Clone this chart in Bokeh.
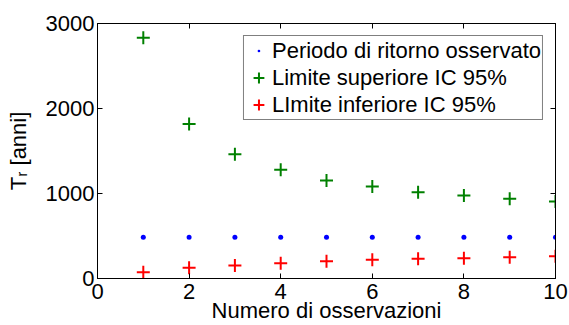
from bokeh.plotting import figure
from bokeh.models import Range1d, LinearAxis, FixedTicker, Legend, LegendItem
from bokeh.embed import file_html
from bokeh.resources import INLINE

# ---- data ----
n_obs = [1, 2, 3, 4, 5, 6, 7, 8, 9, 10]
observed_period = [486, 486, 486, 486, 486, 486, 486, 486, 486, 486]
upper_ci = [2831, 1819, 1462, 1278, 1153, 1082, 1015, 976, 937, 906]
lower_ci = [74, 126, 153, 180, 204, 220, 231, 239, 251, 263]
x_ticks = [0, 2, 4, 6, 8, 10]
y_ticks = [0, 1000, 2000, 3000]
series_labels = ["Periodo di ritorno osservato", "Limite superiore IC 95%", "LImite inferiore IC 95%"]
x_title = "Numero di osservazioni"
y_title = "T\u1d63 [anni]"

FONT = "Liberation Sans"
FS = "22px"

p = figure(width=569, height=325, output_backend="svg", toolbar_location=None,
           x_range=Range1d(0, 10), y_range=Range1d(0, 3000),
           min_border_left=97, min_border_right=14, min_border_top=23, min_border_bottom=47)
p.background_fill_color = "white"
p.border_fill_color = "white"
p.outline_line_color = "black"
p.outline_line_width = 1
p.xgrid.visible = False
p.ygrid.visible = False

for ax in (p.xaxis[0], p.yaxis[0]):
    ax.major_tick_in = 5
    ax.major_tick_out = 0
    ax.minor_tick_in = 0
    ax.minor_tick_out = 0
    ax.axis_line_color = "black"
    ax.major_tick_line_color = "black"
    ax.major_label_text_font = FONT
    ax.major_label_text_font_size = FS
    ax.major_label_text_color = "black"
    ax.axis_label_text_font = FONT
    ax.axis_label_text_font_size = FS
    ax.axis_label_text_font_style = "normal"
    ax.axis_label_text_color = "black"
p.xaxis.ticker = FixedTicker(ticks=x_ticks)
p.yaxis.ticker = FixedTicker(ticks=y_ticks)
p.xaxis.major_label_standoff = 5
p.yaxis.major_label_standoff = 3
p.xaxis.axis_label = x_title
p.xaxis.axis_label_standoff = -4
p.yaxis.axis_label = y_title
p.yaxis.axis_label_standoff = 12

# mirrored ticks on top and right (MATLAB box style), no labels
for loc, ticks in (("above", x_ticks), ("right", y_ticks)):
    ax = LinearAxis(ticker=FixedTicker(ticks=ticks), major_tick_in=5, major_tick_out=0,
                    minor_tick_in=0, minor_tick_out=0, major_label_text_font_size="1px",
                    major_label_text_color=None, major_label_standoff=0,
                    axis_line_color="black", major_tick_line_color="black")
    p.add_layout(ax, loc)

r_obs = p.scatter(n_obs, observed_period, marker="dot", size=20,
                  line_color="#0000ff", fill_color="#0000ff")
r_up = p.scatter(n_obs, upper_ci, marker="cross", size=13, line_width=2,
                 line_color="#008000")
r_lo = p.scatter(n_obs, lower_ci, marker="cross", size=13, line_width=2,
                 line_color="#ff0000")

legend = Legend(items=[LegendItem(label=series_labels[0], renderers=[r_obs]),
                       LegendItem(label=series_labels[1], renderers=[r_up]),
                       LegendItem(label=series_labels[2], renderers=[r_lo])],
                location="top_right", margin=12, padding=1, spacing=0,
                glyph_width=27, glyph_height=27, label_height=27, label_standoff=0,
                label_text_font=FONT, label_text_font_size=FS,
                label_text_color="black",
                border_line_color="black", border_line_width=1.5,
                background_fill_color="white", background_fill_alpha=1.0)
p.add_layout(legend)

open("out.html", "w").write(file_html(p, INLINE))
